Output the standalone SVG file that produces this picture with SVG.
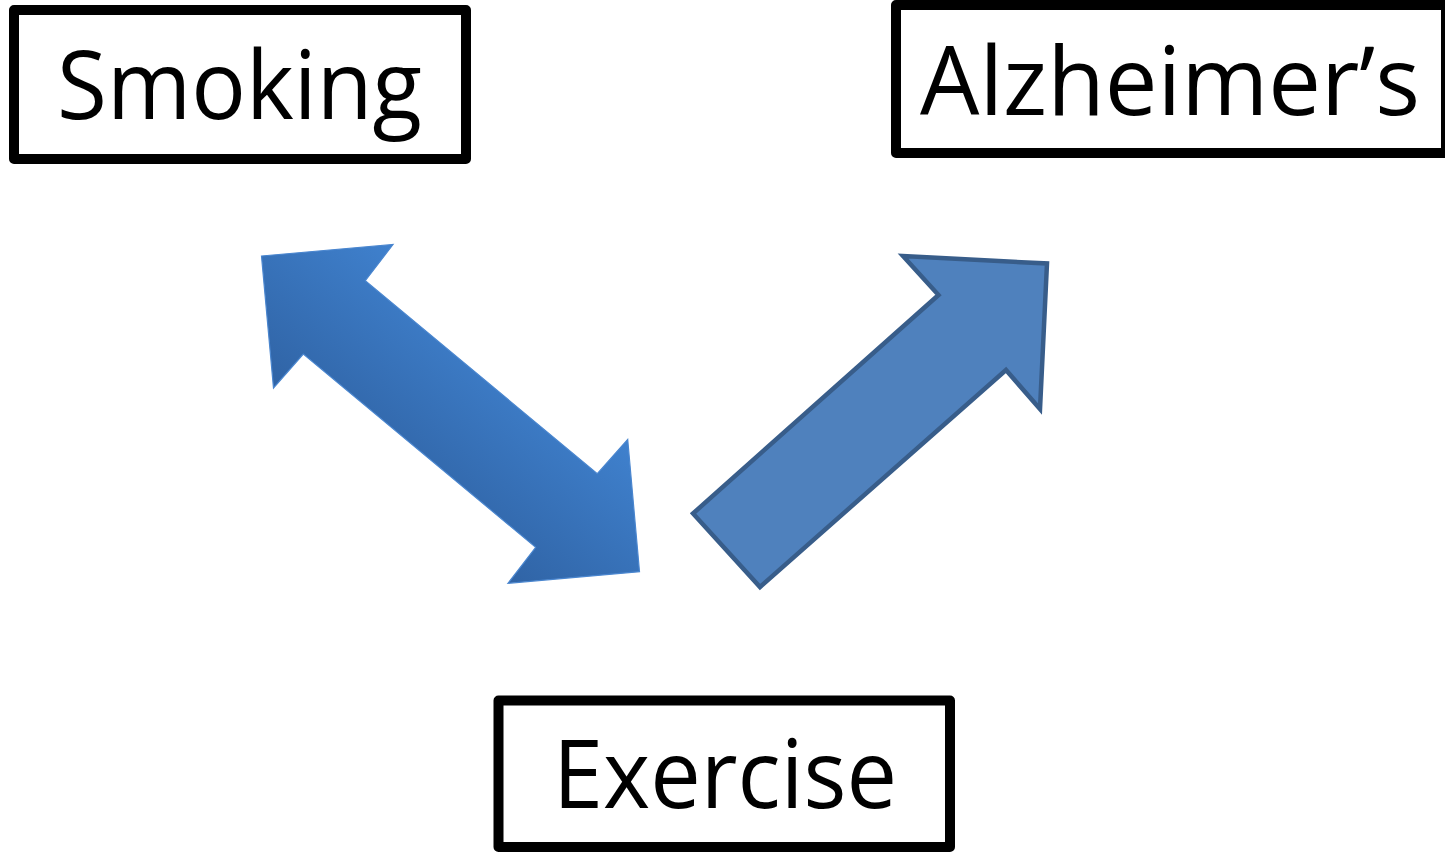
<svg xmlns="http://www.w3.org/2000/svg" width="1445" height="852" viewBox="0 0 1445 852">
  <style>
    .box { fill: #ffffff; stroke: #000000; stroke-width: 10; stroke-linejoin: round; }
    .label { font-family: "Open Sans", "Noto Sans", "Liberation Sans", sans-serif; font-size: 95px; fill: #000000; }
    .dbl { fill: url(#gradDbl); stroke: #4a86cf; stroke-width: 1.2; stroke-linejoin: miter; }
    .single { fill: #4f81bd; stroke: #385d8a; stroke-width: 4.5; stroke-linejoin: miter; }
  </style>
  <defs>
    <linearGradient id="gradDbl" gradientUnits="userSpaceOnUse" x1="515" y1="337" x2="385" y2="492">
      <stop offset="0" stop-color="#4082cf"/>
      <stop offset="1" stop-color="#2f62a3"/>
    </linearGradient>
  </defs>
  <rect x="0" y="0" width="1445" height="852" fill="#ffffff"/>

  <g id="connectors">
    <polygon id="arrow-smoking-exercise" class="dbl" points="261.5,256 393,244.5 365.3,280.7 597.3,473.7 627.7,439.5 639.5,571.7 508,583.3 535.7,547.3 303.3,354 273.5,388"/>
    <polygon id="arrow-exercise-alzheimers" class="single" points="693,513.5 938.5,295 903,256 1047,263.5 1040,409 1006,370 760,587"/>
  </g>

  <g id="node-smoking">
    <rect class="box" x="14" y="10" width="452" height="149"/>
    <text class="label" x="57" y="119" textLength="365" lengthAdjust="spacingAndGlyphs">Smoking</text>
  </g>

  <g id="node-alzheimers">
    <rect class="box" x="896" y="5" width="550" height="148"/>
    <text class="label" x="920" y="115" textLength="500" lengthAdjust="spacingAndGlyphs">Alzheimer’s</text>
  </g>

  <g id="node-exercise">
    <rect class="box" x="498.5" y="700.5" width="451.5" height="146.5"/>
    <text class="label" x="553" y="808" textLength="344" lengthAdjust="spacingAndGlyphs">Exercise</text>
  </g>
</svg>
